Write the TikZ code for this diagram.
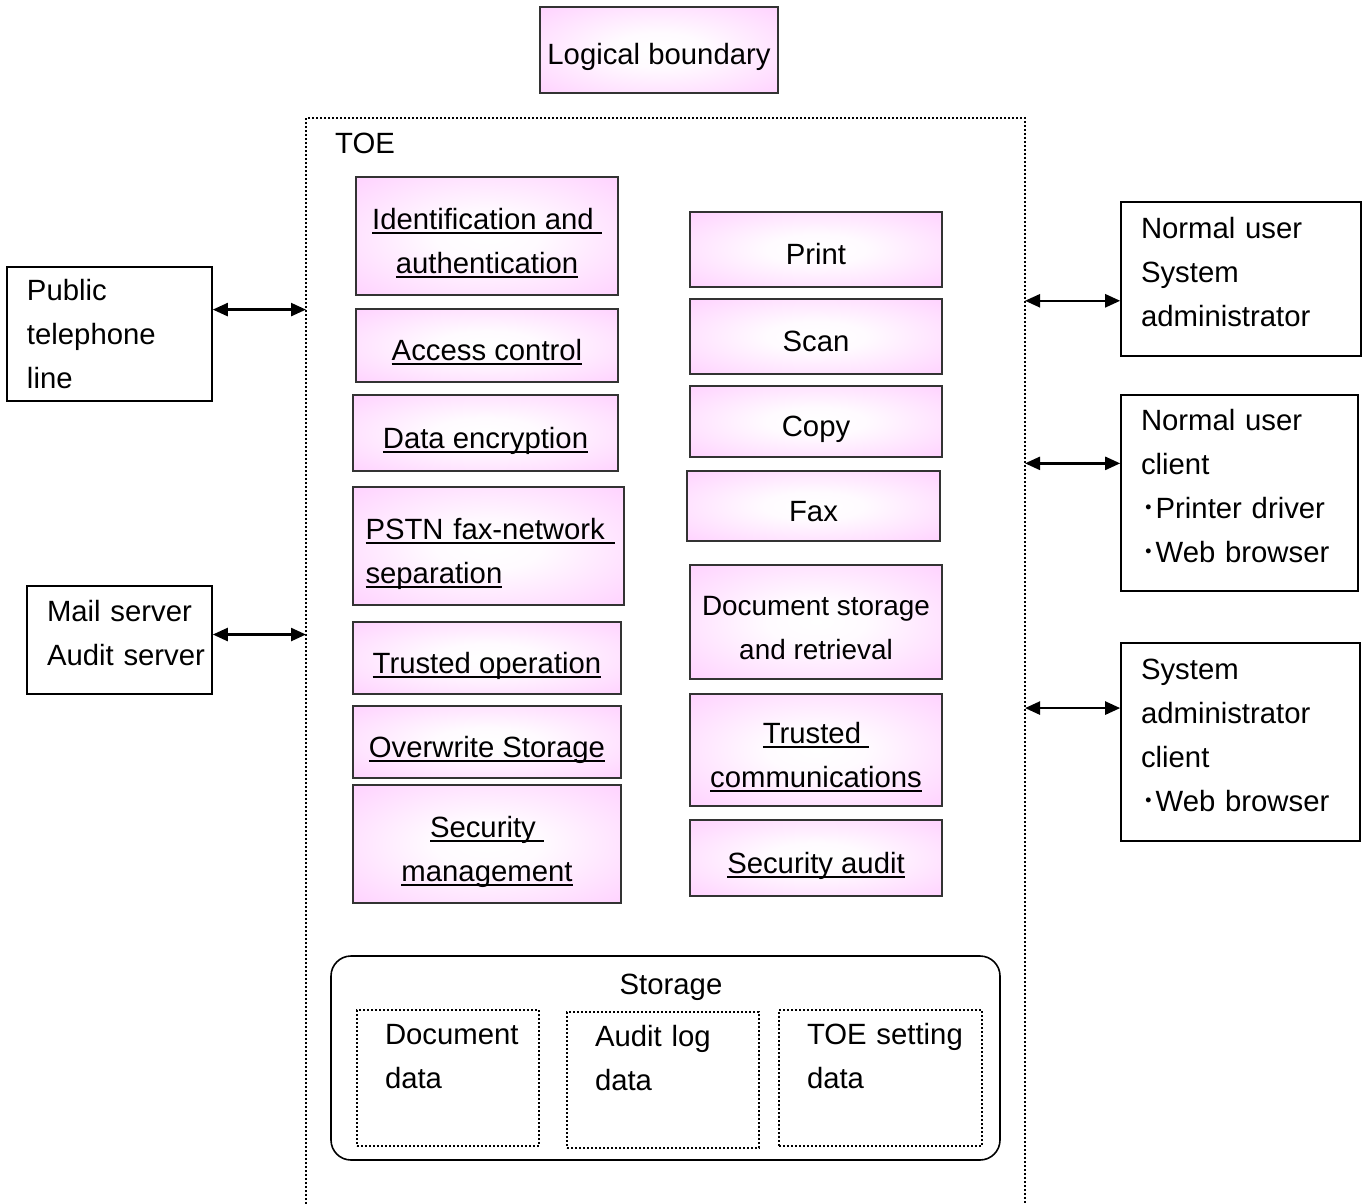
\documentclass[tikz,border=0pt]{standalone}
\usepackage{fontspec}
\setmainfont{Liberation Sans}
\newfontfamily\cjk{Noto Sans CJK JP}
\usetikzlibrary{arrows.meta, positioning, calc}

\definecolor{funcpink}{RGB}{255,200,255}
\pgfdeclareradialshading{funcshade}{\pgfpoint{0bp}{0bp}}{%
    color(0bp)=(white); color(10bp)=(white!92!funcpink);
    color(42bp)=(funcpink); color(50bp)=(funcpink)}

% line strut (Word-like line box)
\newcommand{\fs}{\rule[-7pt]{0pt}{44pt}}
% extra room below the last line of an entity box
\newcommand{\xd}{\rule[-14pt]{0pt}{0pt}}
% underline at a fixed depth (runs through descenders)
\newcommand{\fnul}[1]{\leavevmode\fs\setbox0\hbox{#1}\rlap{\rule[-4.5pt]{\wd0}{1.8pt}}\box0}
\newcommand{\dotitem}{{\cjk ･}}

\begin{document}
\begin{tikzpicture}[
    x=1pt, y=-1pt,
    % Function box (pink)
    funcbox/.style={
        rectangle,
        draw=black!80,
        line width=1.6pt,
        shading=funcshade,
        align=center,
        font=\fontsize{29.3}{44}\selectfont
    },
    % External entity box
    extbox/.style={
        rectangle,
        draw=black,
        line width=1.6pt,
        align=left,
        inner xsep=20pt,
        inner ysep=0pt,
        font=\fontsize{29.3}{44}\selectfont
    },
    % Dotted outline
    dotline/.style={
        line width=2pt,
        dash pattern=on 2pt off 2pt
    },
    % Data box in storage
    databox/.style={
        rectangle,
        draw=black,
        dotline,
        align=left,
        inner ysep=0pt,
        font=\fontsize{29.3}{44}\selectfont
    },
    % Arrow style
    conn/.style={
        {Triangle[length=15pt,width=13pt]}-{Triangle[length=15pt,width=13pt]},
        line width=2.4pt
    }
]
\useasboundingbox (0,0) rectangle (1365,1204);

% === Logical boundary ===
\node[funcbox, minimum width=238pt, minimum height=86pt] (logic) at (659,50) {\fs Logical boundary};

% === TOE ===
\coordinate (toeL) at (306,118);
\coordinate (toeR) at (1025,118);
\draw[dotline] (306,1204) -- (toeL) -- (toeR) -- (1025,1204);
\node[anchor=west, inner sep=0pt, font=\fontsize{29.3}{44}\selectfont] (toelbl) at (335,143) {TOE};

% === Security functions (left column) ===
\node[funcbox, minimum width=262pt, minimum height=118pt] (ia) at (487,236)
    {\fnul{Identification and\ }\\\fnul{authentication}};
\node[funcbox, minimum width=262pt, minimum height=73pt] (ac) at (487,345.5)
    {\fnul{Access control}};
\node[funcbox, minimum width=265pt, minimum height=76pt] (de) at (485.5,433)
    {\fnul{Data encryption}};
\node[funcbox, align=left, text width=246pt, inner xsep=12.5pt, minimum height=118pt] (pstn) at (488.5,546)
    {\fnul{PSTN fax-network\ }\\\fnul{separation}};
\node[funcbox, minimum width=268pt, minimum height=72pt] (to) at (487,658)
    {\fnul{Trusted operation}};
\node[funcbox, minimum width=268pt, minimum height=72pt] (ow) at (487,742)
    {\fnul{Overwrite Storage}};
\node[funcbox, minimum width=268pt, minimum height=118pt] (sm) at (487,844)
    {\fnul{Security\ }\\\fnul{management}};

% === Basic functions (right column) ===
\node[funcbox, minimum width=252pt, minimum height=75pt] (print) at (816,249.5) {\fs Print};
\node[funcbox, minimum width=252pt, minimum height=75pt] (scan) at (816,336.5) {\fs Scan};
\node[funcbox, minimum width=252pt, minimum height=71pt] (copy) at (816,421.5) {\fs Copy};
\node[funcbox, minimum width=253pt, minimum height=70pt] (fax) at (813.5,506) {\fs Fax};
\node[funcbox, minimum width=252pt, minimum height=114pt, font=\fontsize{27.9}{44}\selectfont] (dsr) at (816,622)
    {\fs Document storage\\\fs and retrieval};
\node[funcbox, minimum width=252pt, minimum height=112pt] (tc) at (816,750)
    {\fnul{Trusted\ }\\\fnul{communications}};
\node[funcbox, minimum width=252pt, minimum height=76pt] (sa) at (816,858)
    {\fnul{Security audit}};

% === Storage ===
\node[rectangle, draw, line width=1.6pt, rounded corners=20pt, minimum width=669pt, minimum height=204pt] (storage) at (665.5,1058) {};
\node[font=\fontsize{29.3}{44}\selectfont, inner sep=0pt] (storagelbl) at (671,987) {Storage};
\node[databox, inner xsep=28pt, text width=126pt, minimum height=136pt] (docdata) at (448,1078) {\mbox{Document}\\data\\~};
\node[databox, inner xsep=28pt, text width=136pt, minimum height=136pt] (auditdata) at (663,1080) {\mbox{Audit log}\\data\\~};
\node[databox, inner xsep=28pt, text width=147pt, minimum height=136pt] (setdata) at (880.5,1078) {\mbox{TOE setting}\\data\\~};

% === External entities (left) ===
\node[extbox, text width=165pt, minimum height=134pt] (phone) at (109.5,334) {Public\\telephone\\line};
\node[extbox, text width=145pt, minimum height=108pt] (mail) at (119.5,640) {\mbox{Mail server}\\\mbox{Audit server}\xd};

% === External entities (right) ===
\node[extbox, text width=200pt, minimum height=154pt] (users) at (1241,279) {Normal user\\System\\administrator\xd};
\node[extbox, text width=197pt, minimum height=196pt] (nuclient) at (1239.5,493)
    {Normal user\\client\\\dotitem Printer driver\\\dotitem Web browser\xd};
\node[extbox, text width=199pt, minimum height=198pt] (saclient) at (1240.5,742)
    {System\\administrator\\client\\\dotitem Web browser\xd};

% === Arrows to the TOE boundary ===
\coordinate (phoneP) at ($(phone.north east)!0.32!(phone.south east)$);
\coordinate (mailP) at ($(mail.north east)!0.45!(mail.south east)$);
\coordinate (usersP) at ($(users.north west)!0.64!(users.south west)$);
\coordinate (nuclientP) at ($(nuclient.north west)!0.35!(nuclient.south west)$);
\coordinate (saclientP) at ($(saclient.north west)!0.33!(saclient.south west)$);

\draw[conn] (phoneP) -- (phoneP -| toeL);
\draw[conn] (mailP) -- (mailP -| toeL);
\draw[conn] (usersP -| toeR) -- (usersP);
\draw[conn] (nuclientP -| toeR) -- (nuclientP);
\draw[conn] (saclientP -| toeR) -- (saclientP);

\end{tikzpicture}
\end{document}
